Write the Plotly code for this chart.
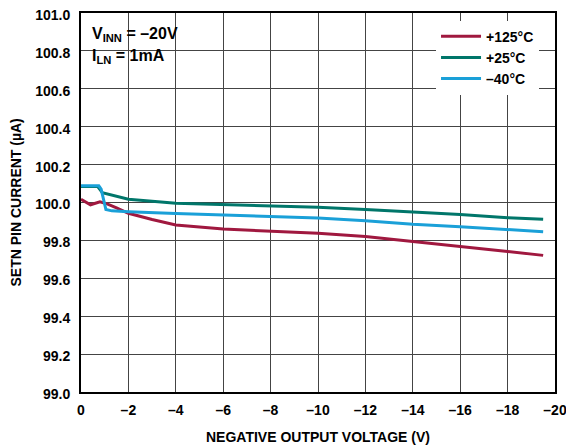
import plotly.graph_objects as go

x_ticks = [0, -2, -4, -6, -8, -10, -12, -14, -16, -18, -20]
x_ticktext = ["0", "–2", "–4", "–6", "–8", "–10", "–12", "–14", "–16", "–18", "–20"]
y_ticks = [99.0, 99.2, 99.4, 99.6, 99.8, 100.0, 100.2, 100.4, 100.6, 100.8, 101.0]
y_ticktext = ["99.0", "99.2", "99.4", "99.6", "99.8", "100.0", "100.2", "100.4", "100.6", "100.8", "101.0"]

v125 = [0, -0.4, -0.8, -1.1, -1.5, -2, -3, -4, -6, -8, -10, -12, -14, -16, -18, -19.5]
i125 = [100.017, 99.988, 100.004, 99.993, 99.972, 99.943, 99.91, 99.881, 99.86, 99.85, 99.838, 99.82, 99.795, 99.768, 99.742, 99.721]

v25 = [0, -0.7, -0.9, -1.2, -2, -4, -6, -8, -10, -12, -14, -16, -18, -19.5]
i25 = [100.085, 100.085, 100.052, 100.043, 100.017, 99.996, 99.99, 99.983, 99.975, 99.963, 99.951, 99.937, 99.92, 99.911]

vm40 = [0, -0.75, -0.85, -1.05, -1.3, -2, -4, -6, -8, -10, -12, -14, -16, -18, -19.5]
im40 = [100.089, 100.088, 100.07, 99.963, 99.956, 99.951, 99.942, 99.935, 99.927, 99.918, 99.904, 99.885, 99.872, 99.858, 99.846]

series = [
    ("+125°C", v125, i125, "#A0183F"),
    ("+25°C", v25, i25, "#00766A"),
    ("–40°C", vm40, im40, "#1AA0D8"),
]

FONT = "Liberation Sans, Arial, sans-serif"
PW, PH = 474, 379  # plot area size in px

fig = go.Figure()
for name, xs, ys, col in series:
    fig.add_trace(go.Scatter(x=xs, y=ys, mode="lines", name=name,
                             line=dict(color=col, width=3)))

fig.update_layout(
    width=566, height=440,
    margin=dict(l=73, r=19, t=5, b=56, autoexpand=False),
    paper_bgcolor="white", plot_bgcolor="white",
    font=dict(family=FONT, size=13, color="black", weight="bold"),
    showlegend=True,
    legend=dict(x=0.749, y=0.98, xanchor="left", yanchor="top",
                bgcolor="white", borderwidth=0,
                font=dict(family=FONT, size=14, color="black", weight="bold"),
                tracegroupgap=0, itemwidth=40),
    xaxis=dict(range=[0, -20], tickvals=x_ticks, ticktext=x_ticktext,
               showgrid=True, gridcolor="#444444", gridwidth=1,
               showline=True, linecolor="black", linewidth=2, mirror=True,
               zeroline=False, ticks="", automargin=False, ticklabelstandoff=4,
               ticklabeloverflow="allow",
               tickfont=dict(family=FONT, size=14, weight="bold")),
    yaxis=dict(range=[99.0, 101.0], tickvals=y_ticks, ticktext=y_ticktext,
               showgrid=True, gridcolor="#444444", gridwidth=1,
               showline=True, linecolor="black", linewidth=2, mirror=True,
               zeroline=False, ticks="", automargin=False, ticklabelstandoff=6,
               ticklabeloverflow="allow", ticklabelshift=2,
               tickfont=dict(family=FONT, size=14, weight="bold")),
)

fig.add_annotation(xref="paper", yref="paper", x=0.5, y=-45 / PH,
                   xanchor="center", yanchor="middle",
                   text="NEGATIVE OUTPUT VOLTAGE (V)", showarrow=False,
                   font=dict(family=FONT, size=14, weight="bold"))
fig.add_annotation(xref="paper", yref="paper", x=-66 / PW, y=0.5,
                   xanchor="center", yanchor="middle", textangle=-90,
                   text="SETN PIN CURRENT (µA)", showarrow=False,
                   font=dict(family=FONT, size=14, weight="bold"))

fig.add_shape(type="rect", xref="paper", yref="paper",
              x0=0.003, x1=114 / PW, y0=1 - 57 / PH, y1=1 - 4 / PH,
              fillcolor="white", line=dict(width=0), layer="between")

fig.add_annotation(xref="paper", yref="paper", x=0.018, y=0.942, xanchor="left", yanchor="middle",
                   text="V<sub>INN</sub> = –20V", showarrow=False,
                   font=dict(family=FONT, size=16, weight="bold"))
fig.add_annotation(xref="paper", yref="paper", x=0.018, y=0.885, xanchor="left", yanchor="middle",
                   text="I<sub>LN</sub> = 1mA", showarrow=False,
                   font=dict(family=FONT, size=16, weight="bold"))

fig.write_html("out.html")
